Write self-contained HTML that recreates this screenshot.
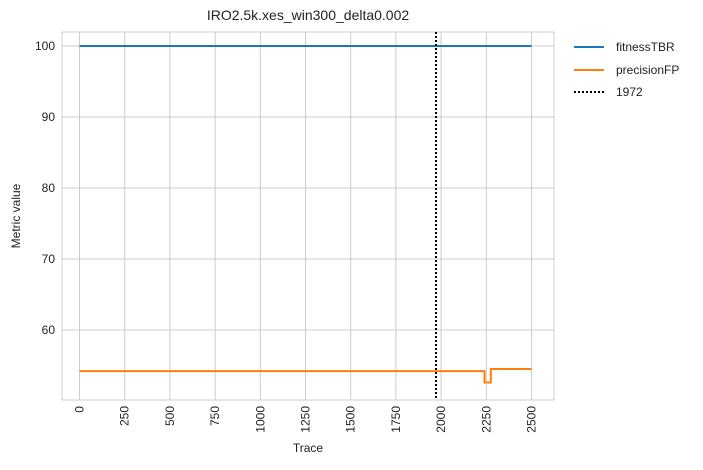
<!DOCTYPE html>
<html><head><meta charset="utf-8"><style>
body{margin:0;background:#fff;font-family:"Liberation Sans",sans-serif;}
</style></head><body>
<svg width="703" height="465" font-family="Liberation Sans, sans-serif">
<g id="grid"></g>
<rect x="62" y="32" width="492" height="368" fill="none" stroke="#ccc"/>
<g id="ticks"></g>
<g id="series"></g>
<text x="308" y="20" text-anchor="middle" font-size="14" fill="#222">IRO2.5k.xes_win300_delta0.002</text>
<text x="308" y="452" text-anchor="middle" font-size="12" fill="#222">Trace</text>
<text x="20" y="216" text-anchor="middle" font-size="12" fill="#222" transform="rotate(-90 20 216)">Metric value</text>
<g>
<line x1="574" y1="47" x2="604" y2="47" stroke="#1f77b4" stroke-width="2"/>
<text x="616" y="51" font-size="12" fill="#222">fitnessTBR</text>
<line x1="574" y1="70" x2="604" y2="70" stroke="#ff7f0e" stroke-width="2"/>
<text x="616" y="74" font-size="12" fill="#222">precisionFP</text>
<line x1="574" y1="92" x2="604" y2="92" stroke="#000" stroke-width="2" stroke-dasharray="2,2"/>
<text x="616" y="96" font-size="12" fill="#222">1972</text>
</g>
</svg>
<script>
const xTicks=[0,250,500,750,1000,1250,1500,1750,2000,2250,2500];
const yTicks=[60,70,80,90,100];
const fitnessX=[0,2500];
const fitnessY=[100,100];
const precisionX=[0,2240,2240,2275,2275,2500];
const precisionY=[54.2,54.2,52.6,52.6,54.5,54.5];
const driftPoint=1972;
const ns="http://www.w3.org/2000/svg";
const sx=v=>79.5+v*452/2500, sy=v=>330-(v-60)*7.1;
function mk(p,t,a){const e=document.createElementNS(ns,t);for(const k in a)e.setAttribute(k,a[k]);p.appendChild(e);return e;}
const g=document.getElementById('grid'),tk=document.getElementById('ticks'),s=document.getElementById('series');
xTicks.forEach(v=>{const x=sx(v);
 const l=mk(g,'line',{x1:x,x2:x,y1:32,y2:400,stroke:'#ccc'});
 
 
 const t=mk(tk,'text',{x:0,y:0,'font-size':12,fill:'#222','text-anchor':'end',transform:`translate(${x+4},406) rotate(-90)`});
 t.textContent=v;
 
 });
yTicks.forEach(v=>{const y=sy(v);
 const l=mk(g,'line',{x1:62,x2:554,y1:y,y2:y,stroke:'#ccc'});
 
 
 const t=mk(tk,'text',{x:55,y:y+4,'font-size':12,fill:'#222','text-anchor':'end'});
 t.textContent=v;
 
 });
function line(X,Y,c,n){const p=mk(s,'polyline',{points:X.map((x,i)=>sx(x)+','+sy(Y[i])).join(' '),fill:'none',stroke:c,'stroke-width':2});
 
 }
line(fitnessX,fitnessY,'#1f77b4','fitness-line');
line(precisionX,precisionY,'#ff7f0e','precision-line');
const d=mk(s,'line',{x1:sx(driftPoint),x2:sx(driftPoint),y1:32,y2:400,stroke:'#000','stroke-width':2,'stroke-dasharray':'2,2'});


</script>
</body></html>
